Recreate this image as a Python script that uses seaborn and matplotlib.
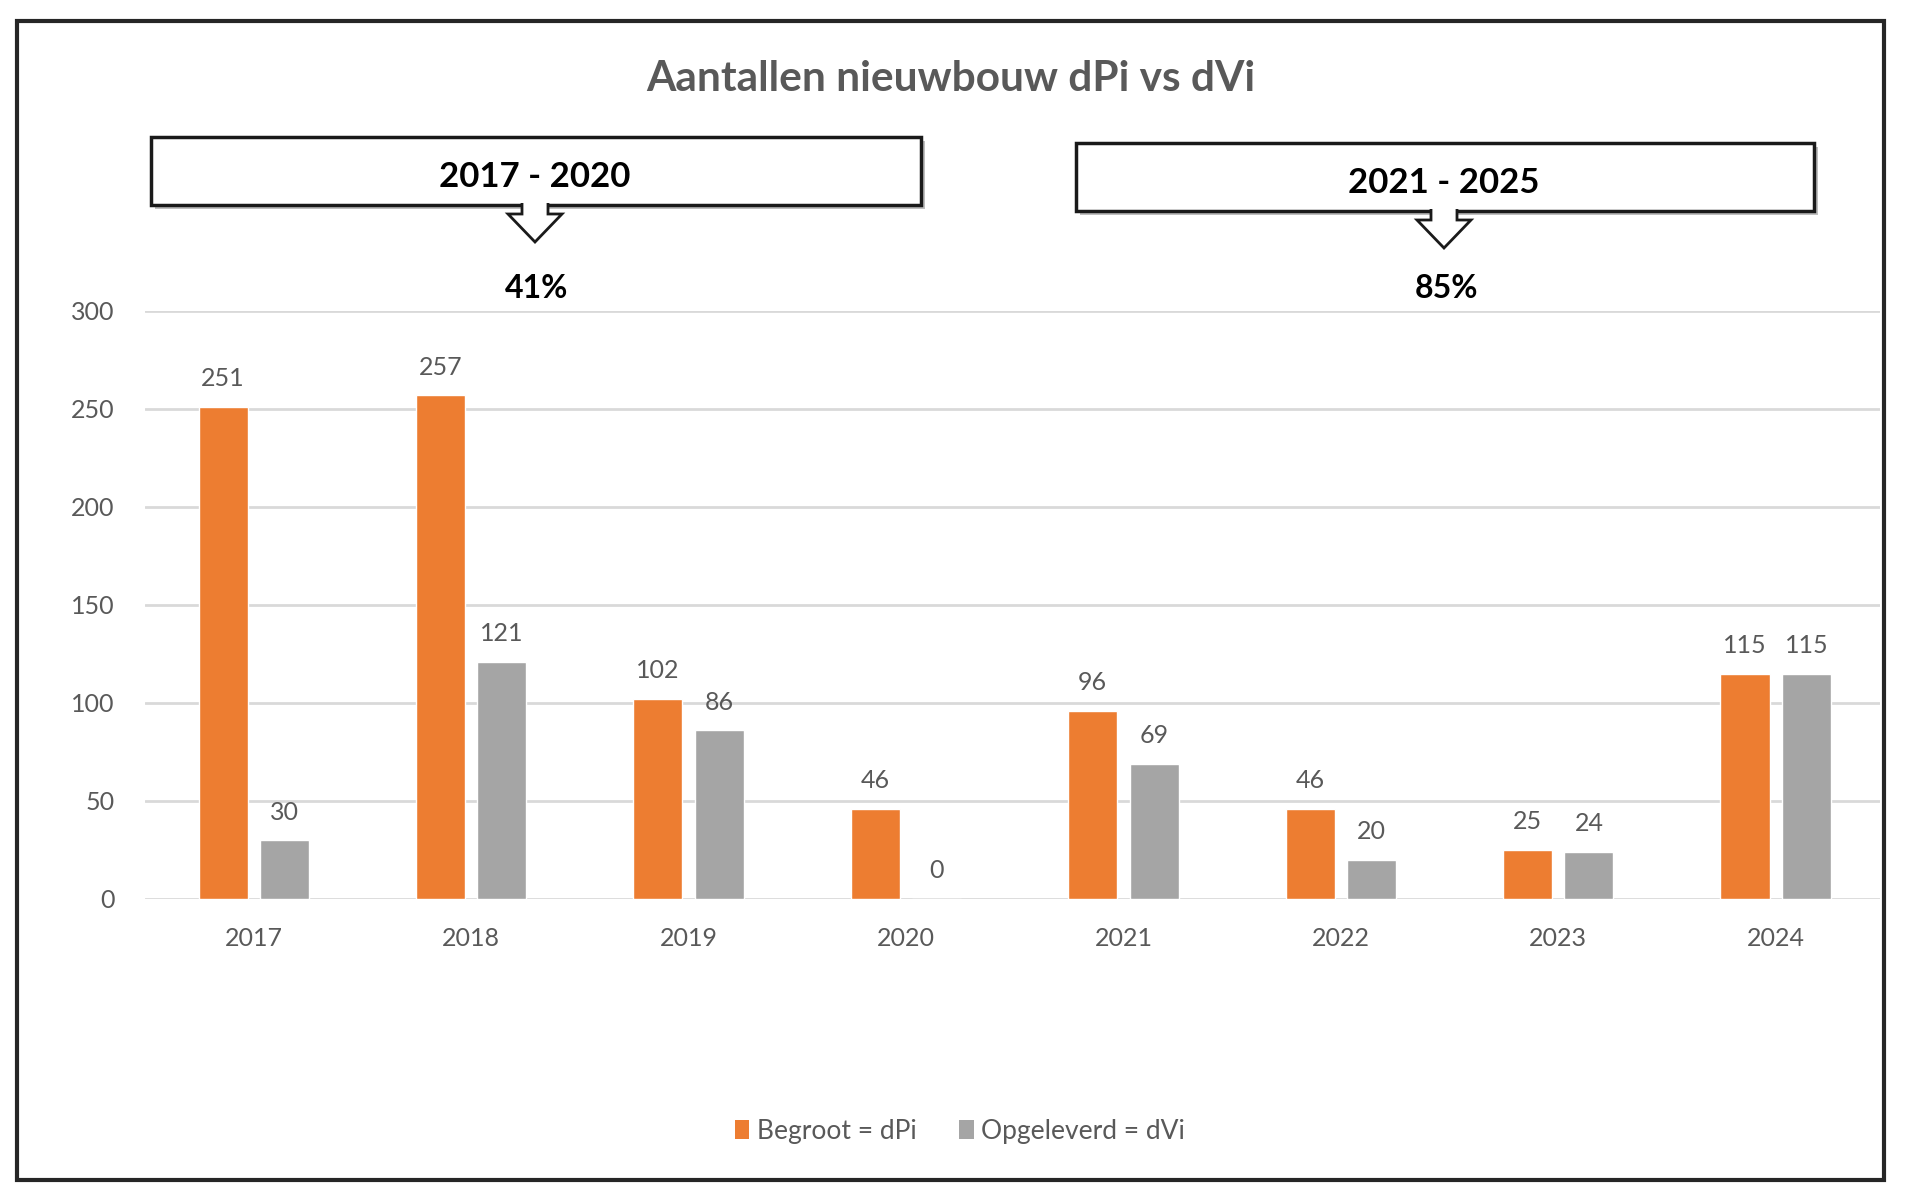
import numpy as np
import pandas as pd
import matplotlib
matplotlib.use("Agg")
import matplotlib.pyplot as plt
import seaborn as sns
from matplotlib.patches import Rectangle, Polygon

# ---- data ----
years = ["2017", "2018", "2019", "2020", "2021", "2022", "2023", "2024"]
begroot = [251, 257, 102, 46, 96, 46, 25, 115]
opgeleverd = [30, 121, 86, 0, 69, 20, 24, 115]
series_names = ["Begroot = dPi", "Opgeleverd = dVi"]
colors = ["#ED7D31", "#A5A5A5"]
title = "Aantallen nieuwbouw dPi vs dVi"
period_labels = ["2017 - 2020", "2021 - 2025"]
period_pct = ["41%", "85%"]
yticks = [0, 50, 100, 150, 200, 250, 300]

df = pd.DataFrame({
    "Jaar": years * 2,
    "Aantal": begroot + opgeleverd,
    "Serie": [series_names[0]] * len(years) + [series_names[1]] * len(years),
})

sns.set_theme(style="white")
plt.rcParams['font.family'] = ['Lato', 'DejaVu Sans']

W, H = 1920, 1200
fig = plt.figure(figsize=(W / 100, H / 100), dpi=100)
fig.patch.set_facecolor("white")


def fx(x):
    return x / W


def fy(y):
    return 1 - y / H


ax = fig.add_axes([fx(145), fy(899), (1880 - 145) / W, (899 - 311) / H])
sns.barplot(data=df, x="Jaar", y="Aantal", hue="Serie", palette=colors,
            width=0.564, gap=0.2, saturation=1, ax=ax, legend=False)

ax.set_xlim(-0.5, 7.48)
ax.set_ylim(0, 300)
ax.set_yticks(yticks)
ax.set_xlabel("")
ax.set_ylabel("")
ax.yaxis.grid(True, color="#D9D9D9", linewidth=2)
ax.xaxis.grid(False)
ax.set_axisbelow(True)
for s in ax.spines.values():
    s.set_visible(False)
ax.tick_params(axis="both", length=0, labelcolor="#595959", labelsize=18)
ax.tick_params(axis="x", pad=20)
ax.tick_params(axis="y", pad=22)

for c in ax.containers:
    ax.bar_label(c, fmt="%d", padding=12, color="#595959", fontsize=18)

# title
fig.text(fx(951), fy(79), title, ha="center", va="center", fontsize=30.5,
         fontweight="bold", color="#595959")

# period boxes with arrows
boxes = [(151, 137, 921, 205), (1076, 143, 1814, 211)]
for (x0, y0, x1, y1), lab, pct in zip(boxes, period_labels, period_pct):
    fig.add_artist(Rectangle((fx(x0) + 0.002, fy(y1) - 0.003), (x1 - x0) / W, (y1 - y0) / H,
                             transform=fig.transFigure, facecolor="#BFBFBF",
                             edgecolor="none", zorder=1))
    fig.add_artist(Rectangle((fx(x0), fy(y1)), (x1 - x0) / W, (y1 - y0) / H,
                             transform=fig.transFigure, facecolor="white",
                             edgecolor="#1a1a1a", lw=2.5, zorder=2))
    cx = (x0 + x1) / 2 - 1
    sw, hw = 13, 27
    pts = [(cx - sw, y1 - 2), (cx - sw, y1 + 9), (cx - hw, y1 + 9), (cx, y1 + 37),
           (cx + hw, y1 + 9), (cx + sw, y1 + 9), (cx + sw, y1 - 2)]
    fig.add_artist(Polygon([(fx(a), fy(b)) for a, b in pts], closed=False,
                           transform=fig.transFigure, facecolor="white",
                           edgecolor="#1a1a1a", lw=2, zorder=3))
    fig.text(fx(cx), fy((y0 + y1) / 2 + 6), lab, ha="center", va="center",
             fontsize=25, fontweight="bold", color="black", zorder=4)
    fig.text(fx(cx + 2), fy(289), pct, ha="center", va="center",
             fontsize=23, fontweight="bold", color="black", zorder=4)

# legend
handles = [Rectangle((0, 0), 1, 1, facecolor=c, edgecolor="none") for c in colors]
fig.legend(handles=handles, labels=series_names, loc="center",
           bbox_to_anchor=(fx(960), fy(1131)), ncol=2, frameon=False,
           fontsize=19, labelcolor="#595959", handlelength=0.55, handleheight=0.7,
           handletextpad=0.3, columnspacing=1.6)

# outer border
fig.add_artist(Rectangle((fx(17), fy(1180)), (1884 - 17) / W, (1180 - 21) / H,
                         transform=fig.transFigure, fill=False,
                         edgecolor="#262626", lw=3, zorder=5))

fig.savefig("out.png", dpi=100, facecolor="white")
